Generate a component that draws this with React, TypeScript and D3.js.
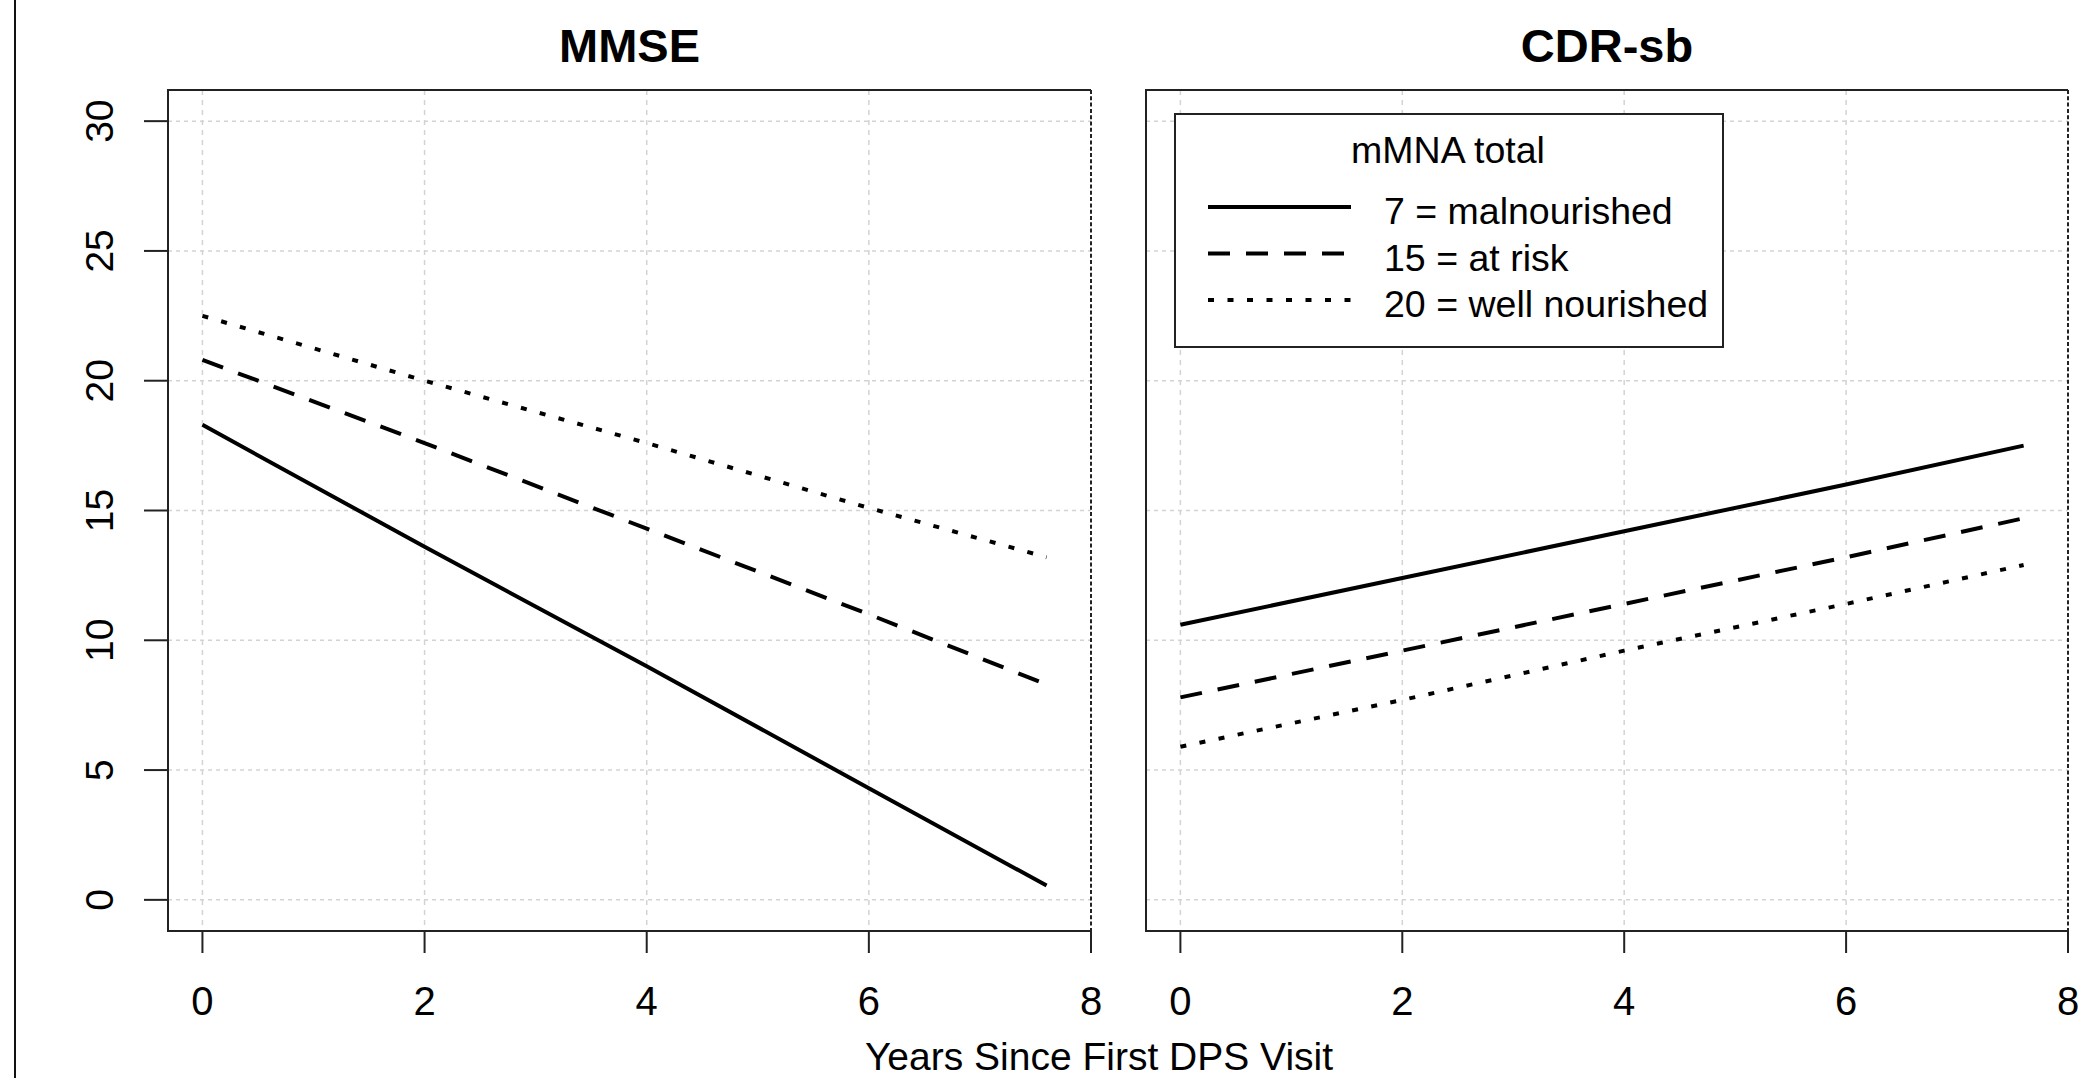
import * as d3 from 'd3';

const years = [0, 2, 4, 6, 7.6];

const mmseMal = [18.3, 13.6, 9.0, 4.3, 0.55];
const mmseRisk = [20.8, 17.6, 14.3, 11.0, 8.3];
const mmseWell = [22.5, 20.0, 17.6, 15.1, 13.2];

const cdrMal = [10.6, 12.4, 14.2, 16.0, 17.5];
const cdrRisk = [7.8, 9.6, 11.4, 13.2, 14.7];
const cdrWell = [5.9, 7.7, 9.6, 11.4, 12.9];

const groupLabels = ['7 = malnourished', '15 = at risk', '20 = well nourished'];
const xTicks = [0, 2, 4, 6, 8];
const yTicks = [0, 5, 10, 15, 20, 25, 30];

const W = 2097;
const H = 1078;
const FONT = '"Liberation Sans", Arial, sans-serif';
const dashes = ['none', '22,16', '6,13.5'];

const top = 90;
const bottom = 931;

const y = d3.scaleLinear().domain([-1.2, 31.2]).range([bottom, top]);

function Panel({ x0, x1, title, series, yAxis, legend }: any) {
  const x = d3.scaleLinear().domain([-0.31, 8]).range([x0, x1]);
  const line = d3
    .line<[number, number]>()
    .x((d) => x(d[0]))
    .y((d) => y(d[1]));

  return (
    <g>
      {/* grid */}
      {xTicks.slice(0, -1).map((t) => (
        <line key={'gx' + t} x1={x(t)} x2={x(t)} y1={top} y2={bottom}
          stroke="#d3d3d3" strokeWidth={1.5} strokeDasharray="5,5" />
      ))}
      {yTicks.map((t) => (
        <line key={'gy' + t} x1={x0} x2={x1} y1={y(t)} y2={y(t)}
          stroke="#d3d3d3" strokeWidth={1.5} strokeDasharray="4,4" />
      ))}

      {/* box: left, top, bottom solid, right dashed */}
      <path d={`M${x1},${top}H${x0}V${bottom}H${x1}`} fill="none" stroke="#222" strokeWidth={2} />
      <line x1={x1} x2={x1} y1={top} y2={bottom} stroke="#222" strokeWidth={2} strokeDasharray="4,2.3" />

      {/* data lines */}
      {series.map((vals: number[], i: number) => (
        <path key={'s' + i}
          d={line(years.map((yr, j) => [yr, vals[j]]) as [number, number][]) || ''}
          fill="none" stroke="#000" strokeWidth={4} strokeDasharray={dashes[i]} />
      ))}

      {/* x axis */}
      {xTicks.map((t) => (
        <g key={'xt' + t}>
          <line x1={x(t)} x2={x(t)} y1={bottom} y2={bottom + 22} stroke="#222" strokeWidth={2} />
          <text x={x(t)} y={1015} textAnchor="middle" fontSize={40} fontFamily={FONT}>{t}</text>
        </g>
      ))}

      {/* y axis */}
      {yAxis && yTicks.map((t) => (
        <g key={'yt' + t}>
          <line x1={x0 - 24} x2={x0} y1={y(t)} y2={y(t)} stroke="#222" strokeWidth={2} />
          <text transform={`translate(113,${y(t)}) rotate(-90)`} textAnchor="middle"
            fontSize={39} fontFamily={FONT}>{t}</text>
        </g>
      ))}

      <text x={(x0 + x1) / 2} y={62} textAnchor="middle" fontSize={47} fontWeight="bold"
        fontFamily={FONT}>{title}</text>

      {legend && (
        <g>
          <rect x={1175} y={114} width={548} height={233} fill="#fff" stroke="#222" strokeWidth={2} />
          <text x={1448} y={163} textAnchor="middle" fontSize={37.5} fontFamily={FONT}>mMNA total</text>
          {groupLabels.map((lab, i) => (
            <g key={'lg' + i}>
              <line x1={1208} x2={1351} y1={207 + i * 46.5} y2={207 + i * 46.5}
                stroke="#000" strokeWidth={4} strokeDasharray={dashes[i]} />
              <text x={1384} y={224 + i * 46.5} fontSize={37.5} fontFamily={FONT}>{lab}</text>
            </g>
          ))}
        </g>
      )}
    </g>
  );
}

export default function App() {
  return (
    <svg width={W} height={H} style={{ position: 'absolute', left: 0, top: 0, background: '#fff' }}>
      <rect width={W} height={H} fill="#fff" />
      <line x1={15} x2={15} y1={0} y2={H} stroke="#111" strokeWidth={2} />
      <Panel x0={168} x1={1091} title="MMSE" series={[mmseMal, mmseRisk, mmseWell]} yAxis />
      <Panel x0={1146} x1={2068} title="CDR-sb" series={[cdrMal, cdrRisk, cdrWell]} legend />
      <text x={1099} y={1070} textAnchor="middle" fontSize={39} fontFamily={FONT}>
        Years Since First DPS Visit
      </text>
    </svg>
  );
}
